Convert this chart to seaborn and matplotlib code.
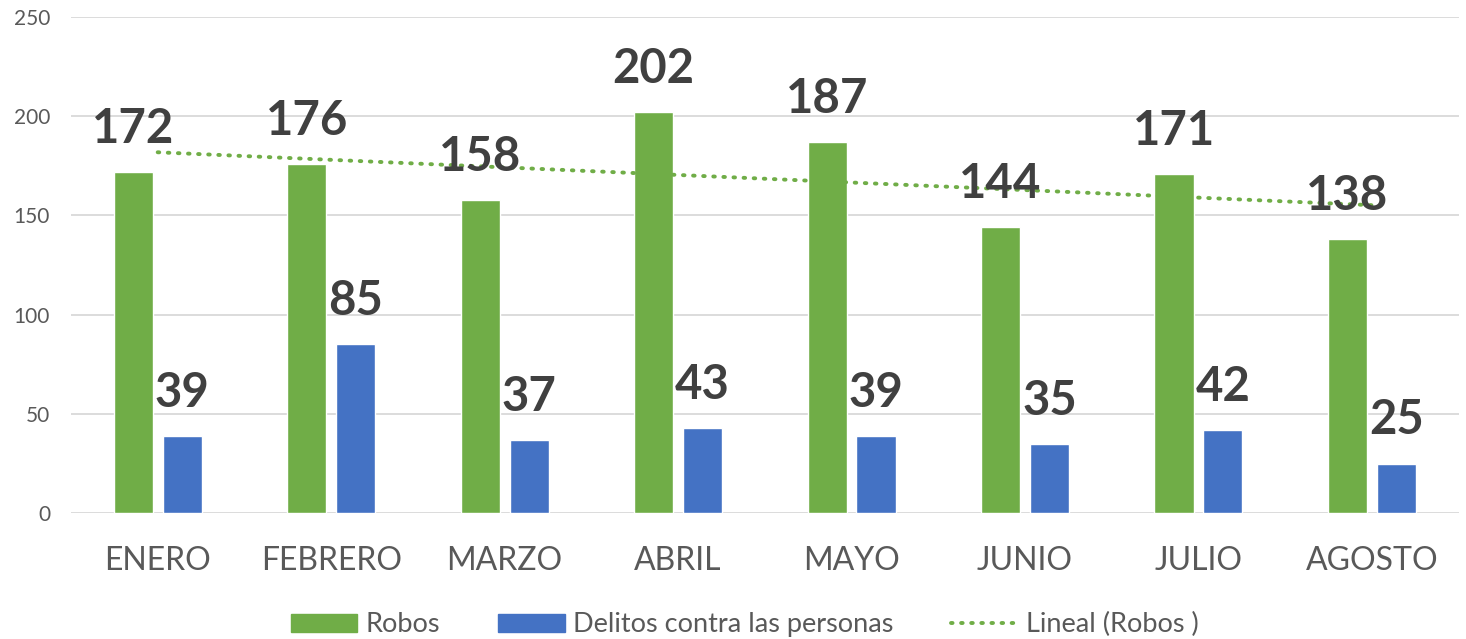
import numpy as np
import pandas as pd
import matplotlib
matplotlib.use("Agg")
import matplotlib.pyplot as plt
from matplotlib.patches import Patch
from matplotlib.lines import Line2D
import seaborn as sns

meses = ["ENERO", "FEBRERO", "MARZO", "ABRIL", "MAYO", "JUNIO", "JULIO", "AGOSTO"]
robos = [172, 176, 158, 202, 187, 144, 171, 138]
delitos = [39, 85, 37, 43, 39, 35, 42, 25]
series = ["Robos", "Delitos contra las personas"]
yticks = [0, 50, 100, 150, 200, 250]

GREEN = "#70AD47"
BLUE = "#4472C4"
TXT = "#595959"
LBL = "#404040"

sns.set_theme(style="white")
plt.rcParams["font.family"] = ["Lato", "DejaVu Sans"]

df = pd.DataFrame({
    "mes": meses * 2,
    "valor": robos + delitos,
    "serie": [series[0]] * len(meses) + [series[1]] * len(meses),
})

fig = plt.figure(figsize=(14.66, 6.39), dpi=100)
ax = fig.add_axes([0.0484, 0.197, 0.9466, 0.7764])

sns.barplot(data=df, x="mes", y="valor", hue="serie", order=meses,
            hue_order=series, palette=[GREEN, BLUE], width=0.564, gap=0.2,
            saturation=1, errorbar=None, legend=False, ax=ax)

DOT = (0, (0.4, 2.2))

# trend line (linear fit of Robos)
xs = np.arange(len(meses))
coef = np.polyfit(xs, robos, 1)
ax.plot(xs, np.polyval(coef, xs), color=GREEN, lw=2.8,
        linestyle=DOT, dash_capstyle="round", zorder=4)

# data labels
for cont in ax.containers:
    for bar in cont:
        h = bar.get_height()
        ax.annotate(f"{int(round(h))}", (bar.get_x() + bar.get_width() / 2, h),
                    xytext=(0, 31), textcoords="offset points",
                    ha="center", va="center", fontsize=34, fontweight="bold",
                    color=LBL, zorder=5)

ax.set_ylim(0, 250)
ax.set_xlim(-0.5, len(meses) - 0.5)
ax.set_yticks(yticks)
ax.yaxis.grid(True, color="#D9D9D9", lw=1.3)
ax.set_axisbelow(True)
for s in ax.spines.values():
    s.set_visible(False)
ax.set_xlabel("")
ax.set_ylabel("")
ax.tick_params(axis="y", length=0, pad=15, labelsize=15, labelcolor=TXT)
ax.tick_params(axis="x", length=0, pad=24, labelsize=23, labelcolor=TXT)

handles = [Patch(color=GREEN), Patch(color=BLUE),
           Line2D([0], [0], color=GREEN, lw=2.8, linestyle=DOT,
                  dash_capstyle="round")]
labels = ["Robos", "Delitos contra las personas", "Lineal (Robos )"]
leg = fig.legend(handles, labels, loc="center", bbox_to_anchor=(0.508, 0.022),
                 ncol=3, frameon=False, fontsize=19.5, handlelength=2.45,
                 handleheight=0.7, columnspacing=2.15, handletextpad=0.3)
for t in leg.get_texts():
    t.set_color(TXT)

fig.savefig("out.png", dpi=100)
